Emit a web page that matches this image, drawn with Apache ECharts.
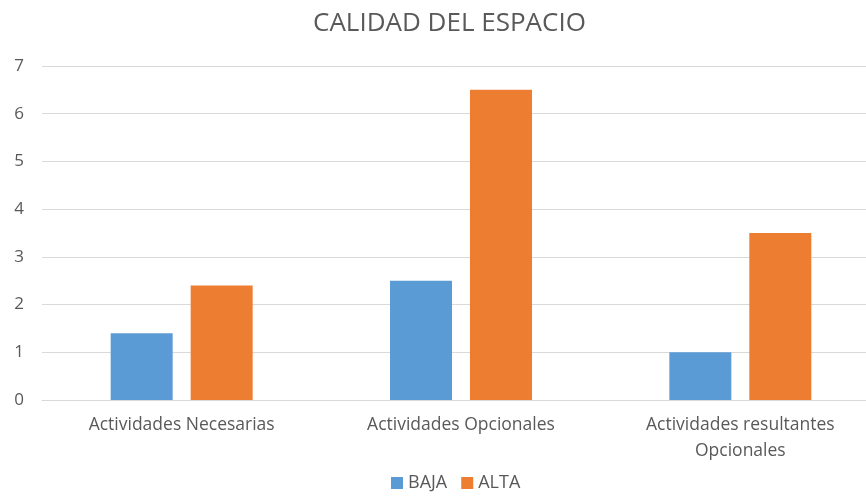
<!DOCTYPE html>
<html><head><meta charset="utf-8">
<script src="https://cdn.jsdelivr.net/npm/echarts@6/dist/echarts.min.js"></script>
<style>html,body{margin:0;padding:0;background:#fff}#c{width:866px;height:498px}</style>
</head><body><div id="c"></div>
<script>
var categories = ['Actividades Necesarias', 'Actividades Opcionales', 'Actividades resultantes\nOpcionales'];
var baja = [1.4, 2.5, 1.0];
var alta = [2.4, 6.5, 3.5];
var seriesNames = ['BAJA', 'ALTA'];
var ff = 'Open Sans';
var chart = echarts.init(document.getElementById('c'));
chart.setOption({
  animation: false,
  title: {text: 'CALIDAD DEL ESPACIO', left: 308, top: 6,
    textStyle: {fontFamily: ff, fontSize: 26, fontWeight: 'normal', color: '#595959'}},
  legend: {bottom: 1, left: 386, itemWidth: 12, itemHeight: 12, itemGap: 14, icon: 'rect',
    textStyle: {fontFamily: ff, fontSize: 18, color: '#595959'}},
  grid: {left: 42, top: 66, width: 838, height: 334, outerBoundsMode: 'none', containLabel: false},
  xAxis: {type: 'category', data: categories,
    axisLine: {lineStyle: {color: '#d9d9d9'}}, axisTick: {show: false},
    axisLabel: {fontFamily: ff, fontSize: 17.5, color: '#595959', margin: 12, lineHeight: 26}},
  yAxis: {type: 'value', min: 0, max: 7, interval: 1,
    axisLabel: {fontFamily: ff, fontSize: 17, color: '#595959', margin: 18},
    splitLine: {lineStyle: {color: '#d9d9d9'}}},
  series: [
    {name: seriesNames[0], type: 'bar', data: baja, barWidth: 62, barGap: '29%', itemStyle: {color: '#5B9BD5'}},
    {name: seriesNames[1], type: 'bar', data: alta, barWidth: 62, itemStyle: {color: '#ED7D31'}}
  ]
});
</script></body></html>
